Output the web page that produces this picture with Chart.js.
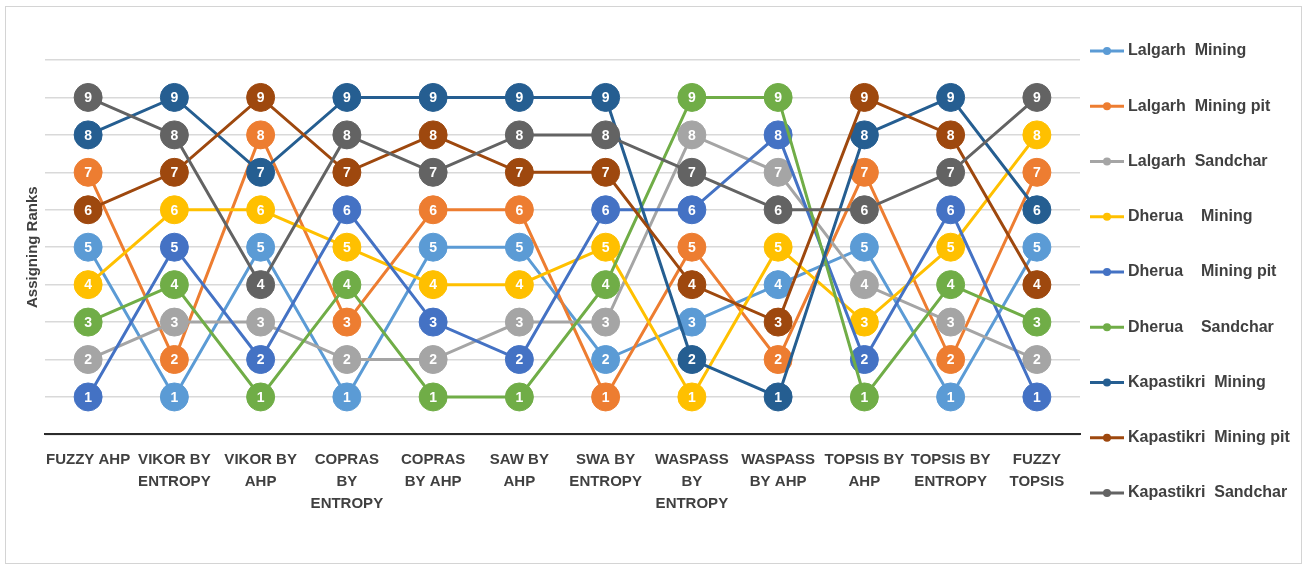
<!DOCTYPE html>
<html>
<head>
<meta charset="utf-8">
<script src="https://cdn.jsdelivr.net/npm/chart.js@4.4.1/dist/chart.umd.min.js"></script>
<style>
  html, body { margin: 0; padding: 0; background: #ffffff; }
  #frame {
    position: absolute; left: 5px; top: 6px; width: 1297px; height: 558px;
    border: 1px solid #d4d4d4; box-sizing: border-box;
  }
  #chart { position: absolute; left: 0; top: 0; }
</style>
</head>
<body>
<div id="frame"></div>
<canvas id="chart" width="1306" height="566"></canvas>
<script>
// Ranking methods along the x axis
const categories = [
  ['FUZZY AHP'],
  ['VIKOR BY', 'ENTROPY'],
  ['VIKOR BY', 'AHP'],
  ['COPRAS', 'BY', 'ENTROPY'],
  ['COPRAS', 'BY AHP'],
  ['SAW BY', 'AHP'],
  ['SWA BY', 'ENTROPY'],
  ['WASPASS', 'BY', 'ENTROPY'],
  ['WASPASS', 'BY AHP'],
  ['TOPSIS BY', 'AHP'],
  ['TOPSIS BY', 'ENTROPY'],
  ['FUZZY', 'TOPSIS']
];

// Rank assigned to each site by each method
const lalgarhMining       = [5, 1, 5, 1, 5, 5, 2, 3, 4, 5, 1, 5];
const lalgarhMiningPit    = [7, 2, 8, 3, 6, 6, 1, 5, 2, 7, 2, 7];
const lalgarhSandchar     = [2, 3, 3, 2, 2, 3, 3, 8, 7, 4, 3, 2];
const dheruaMining        = [4, 6, 6, 5, 4, 4, 5, 1, 5, 3, 5, 8];
const dheruaMiningPit     = [1, 5, 2, 6, 3, 2, 6, 6, 8, 2, 6, 1];
const dheruaSandchar      = [3, 4, 1, 4, 1, 1, 4, 9, 9, 1, 4, 3];
const kapastikriMining    = [8, 9, 7, 9, 9, 9, 9, 2, 1, 8, 9, 6];
const kapastikriMiningPit = [6, 7, 9, 7, 8, 7, 7, 4, 3, 9, 8, 4];
const kapastikriSandchar  = [9, 8, 4, 8, 7, 8, 8, 7, 6, 6, 7, 9];

const seriesNames = [
  'Lalgarh  Mining', 'Lalgarh  Mining pit', 'Lalgarh  Sandchar',
  'Dherua    Mining', 'Dherua    Mining pit', 'Dherua    Sandchar',
  'Kapastikri  Mining', 'Kapastikri  Mining pit', 'Kapastikri  Sandchar'
];
const seriesValues = [
  lalgarhMining, lalgarhMiningPit, lalgarhSandchar,
  dheruaMining, dheruaMiningPit, dheruaSandchar,
  kapastikriMining, kapastikriMiningPit, kapastikriSandchar
];
const seriesColors = [
  '#5B9BD5', '#ED7D31', '#A5A5A5',
  '#FFC000', '#4472C4', '#70AD47',
  '#255E91', '#9E480E', '#636363'
];

const rankTicks = { min: 0, max: 10, step: 1 };

const FONT = '"Liberation Sans", Arial, sans-serif';
const TEXT_COLOR = '#404040';

// Writes the rank number inside each marker, right after its series is drawn
const markerNumbers = {
  id: 'markerNumbers',
  afterDatasetDraw(chart, args) {
    const ctx = chart.ctx;
    const ds = chart.data.datasets[args.index];
    ctx.save();
    ctx.font = 'bold 14px ' + FONT;
    ctx.fillStyle = '#ffffff';
    ctx.textAlign = 'center';
    ctx.textBaseline = 'middle';
    args.meta.data.forEach((pt, j) => {
      ctx.fillText(String(ds.data[j]), pt.x, pt.y + 1);
    });
    ctx.restore();
  }
};

// Vertical legend on the right: line-with-dot swatch and series name
const sideLegend = {
  id: 'sideLegend',
  afterDraw(chart) {
    const ctx = chart.ctx;
    const x0 = chart.chartArea.right + 10;
    const top = 51, gap = 55.25;
    chart.data.datasets.forEach((ds, i) => {
      const y = top + i * gap;
      ctx.save();
      ctx.strokeStyle = ds.borderColor;
      ctx.lineWidth = 3;
      ctx.beginPath();
      ctx.moveTo(x0, y);
      ctx.lineTo(x0 + 34, y);
      ctx.stroke();
      ctx.fillStyle = ds.borderColor;
      ctx.beginPath();
      ctx.arc(x0 + 17, y, 4, 0, Math.PI * 2);
      ctx.fill();
      ctx.font = 'bold 16px ' + FONT;
      ctx.fillStyle = TEXT_COLOR;
      ctx.textBaseline = 'middle';
      ctx.textAlign = 'left';
      ctx.fillText(ds.label, x0 + 38, y);
      ctx.restore();
    });
  }
};

const datasets = seriesNames.map((name, i) => ({
  label: name,
  data: seriesValues[i],
  borderColor: seriesColors[i],
  backgroundColor: seriesColors[i],
  pointBackgroundColor: seriesColors[i],
  pointBorderColor: seriesColors[i],
  pointBorderWidth: 1,
  pointRadius: 14,
  pointHoverRadius: 14,
  borderWidth: 3,
  tension: 0,
  order: seriesNames.length - i
}));

new Chart(document.getElementById('chart'), {
  type: 'line',
  data: { labels: categories, datasets },
  plugins: [markerNumbers, sideLegend],
  options: {
    responsive: false,
    animation: false,
    events: [],
    layout: { padding: { left: 20, right: 226, top: 60, bottom: 37 } },
    plugins: {
      legend: { display: false },
      tooltip: { enabled: false }
    },
    scales: {
      x: {
        type: 'category',
        offset: true,
        grid: { display: false, drawTicks: false },
        border: { display: true, color: '#2b2b2b', width: 2 },
        ticks: {
          autoSkip: false,
          maxRotation: 0,
          minRotation: 0,
          padding: 14,
          color: TEXT_COLOR,
          font: { family: FONT, size: 15, weight: 'bold', lineHeight: 1.48 }
        }
      },
      y: {
        min: rankTicks.min,
        max: rankTicks.max,
        grid: { color: '#d9d9d9', lineWidth: 1.5, drawTicks: false },
        border: { display: false },
        ticks: { display: false, stepSize: rankTicks.step },
        title: {
          display: true,
          text: 'Assigning Ranks',
          color: TEXT_COLOR,
          padding: { top: 4, bottom: 3 },
          font: { family: FONT, size: 15, weight: 'bold', lineHeight: 1.2 }
        }
      }
    }
  }
});
</script>
</body>
</html>
